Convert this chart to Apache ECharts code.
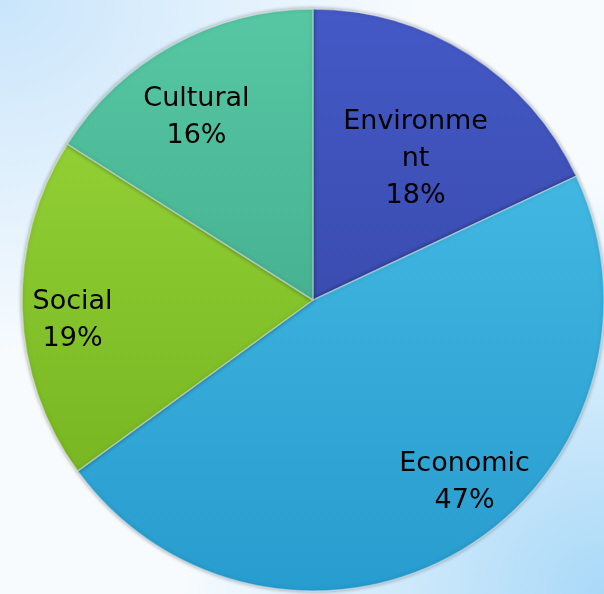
<!DOCTYPE html>
<html>
<head>
<meta charset="utf-8">
<script src="https://cdn.jsdelivr.net/npm/echarts@6/dist/echarts.min.js"></script>
<style>
html,body{margin:0;padding:0;width:604px;height:594px;overflow:hidden;}
body{background:
 radial-gradient(ellipse 70% 60% at 0% 0%, #c9e5fb 0%, rgba(201,229,251,0) 100%),
 radial-gradient(ellipse 70% 70% at 100% 100%, #a9d9f8 0%, rgba(169,217,248,0) 100%),
 #f7fbfe;}
#c{width:604px;height:594px;}
</style>
</head>
<body>
<div id="c"></div>
<script>
const categories = ['Environme\nnt', 'Economic', 'Social', 'Cultural'];
const values = [18, 47, 19, 16];
const colorsTop = ['#4459c6', '#4cc2ea', '#9cd93c', '#56c7a3'];
const colorsBottom = ['#31409a', '#279cce', '#6fae1c', '#389d80'];
const labelShift = [[23, -16], [76, 55], [-92, 16], [-45, -52]];

const chart = echarts.init(document.getElementById('c'), null, {renderer: 'canvas'});
const cx = 313, cy = 300, R = 291;
const data = categories.map((name, i) => ({
  name: name,
  value: values[i],
  itemStyle: {
    color: new echarts.graphic.LinearGradient(0, cy - R, 0, cy + R, [
      {offset: 0, color: colorsTop[i]},
      {offset: 1, color: colorsBottom[i]}
    ], true)
  }
}));

chart.setOption({
  backgroundColor: 'transparent',
  animation: false,
  series: [{
    type: 'pie',
    center: [cx, cy],
    radius: [0, R],
    startAngle: 90,
    clockwise: true,
    data: data,
    itemStyle: {
      borderColor: 'rgba(255,255,255,0.4)',
      borderWidth: 1.5,
      shadowBlur: 4,
      shadowColor: 'rgba(0,0,0,0.4)'
    },
    label: {
      show: true,
      position: 'inside',
      formatter: p => p.name + '\n' + Math.round(p.percent) + '%',
      fontFamily: 'DejaVu Sans',
      fontSize: 27,
      lineHeight: 37,
      color: '#000',
      align: 'center'
    },
    labelLine: {show: false},
    labelLayout: function (params) {
      const s = labelShift[params.dataIndex];
      return {dx: s[0], dy: s[1]};
    },
    emphasis: {disabled: true}
  }]
});
</script>
</body>
</html>
